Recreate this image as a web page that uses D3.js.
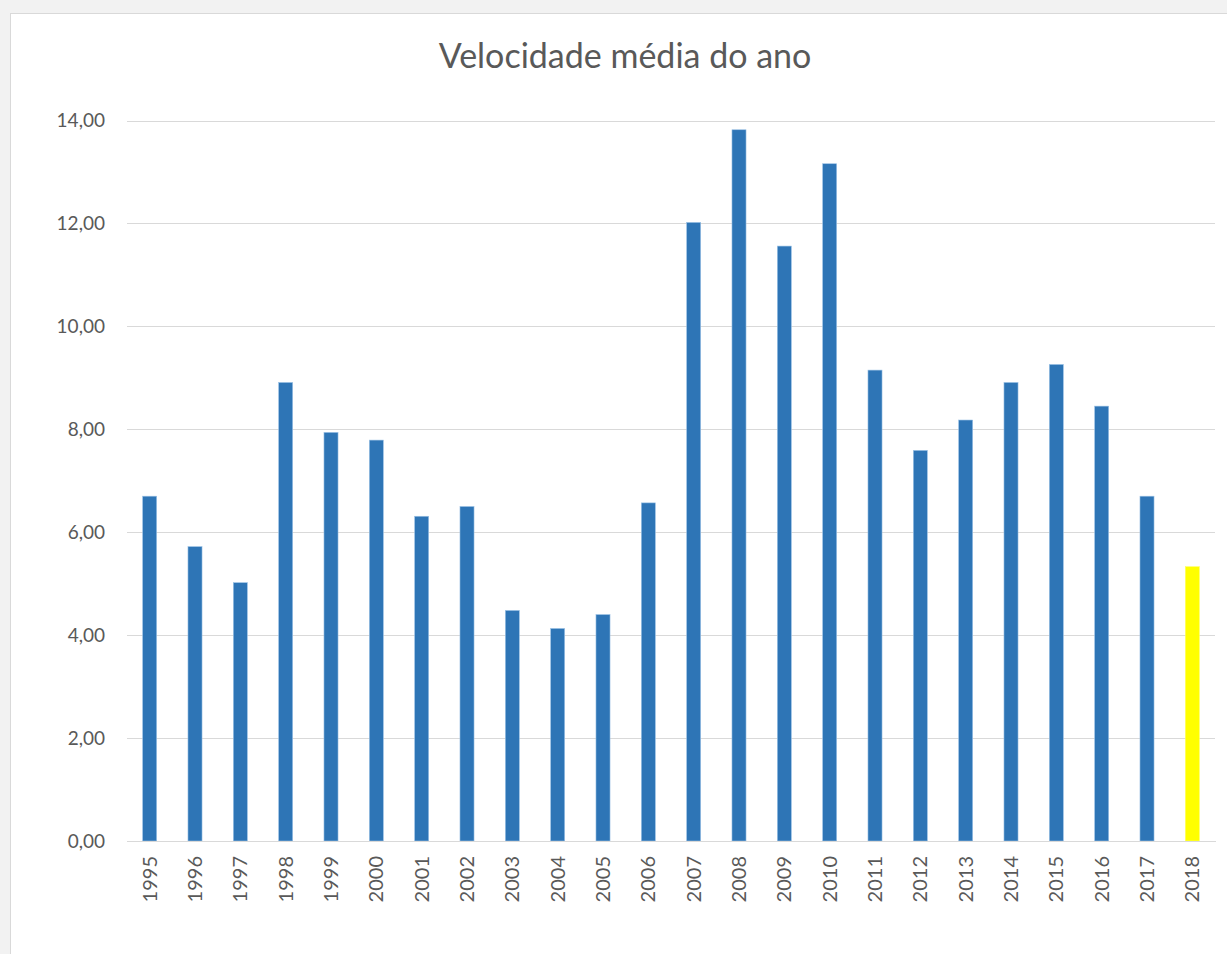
<!DOCTYPE html>
<html>
<head>
<meta charset="utf-8">
<script src="https://cdn.jsdelivr.net/npm/d3@7"></script>
<style>
  html, body { margin: 0; padding: 0; background: #f2f2f2; }
  svg { display: block; }
</style>
</head>
<body>
<svg id="chart" width="1227" height="954"></svg>
<script>
const title = "Velocidade média do ano";
const years = ["1995","1996","1997","1998","1999","2000","2001","2002","2003","2004","2005","2006","2007","2008","2009","2010","2011","2012","2013","2014","2015","2016","2017","2018"];
const speeds = [6.70, 5.72, 5.02, 8.91, 7.94, 7.79, 6.31, 6.50, 4.48, 4.13, 4.40, 6.57, 12.02, 13.82, 11.56, 13.16, 9.15, 7.59, 8.18, 8.91, 9.26, 8.45, 6.70, 5.33];
const highlightYears = ["2018"];
const yTicks = [0, 2, 4, 6, 8, 10, 12, 14];

const svg = d3.select("#chart");
const W = 1227, H = 954;
const plot = { left: 127, right: 1215, top: 120.5, bottom: 841 };

svg.append("rect")
  .attr("x", 10.5).attr("y", 13.5)
  .attr("width", W).attr("height", H)
  .attr("fill", "#ffffff").attr("stroke", "#d9d9d9");

const x = d3.scaleBand().domain(years).range([plot.left, plot.right]).paddingInner(0.69).paddingOuter(0.345);
const y = d3.scaleLinear().domain([0, 14]).range([plot.bottom, plot.top]);

const font = "Lato, 'Open Sans', sans-serif";

// gridlines
const yAxis = d3.axisLeft(y).tickValues(yTicks)
  .tickSize(-(plot.right - plot.left))
  .tickPadding(22)
  .tickFormat(d => d3.format(".2f")(d).replace(".", ","));
const gy = svg.append("g").attr("transform", `translate(${plot.left},0)`).call(yAxis);
gy.select(".domain").remove();
gy.selectAll(".tick line").attr("stroke", "#d9d9d9").attr("stroke-width", 1).attr("shape-rendering", "crispEdges");
gy.selectAll(".tick text").attr("fill", "#595959").style("font-family", font).style("font-size", "19px");

// bars
svg.append("g").selectAll("rect").data(years).join("rect")
  .attr("x", d => x(d))
  .attr("width", x.bandwidth())
  .attr("y", (d, i) => y(speeds[i]))
  .attr("height", (d, i) => y(0) - y(speeds[i]))
  .attr("fill", d => highlightYears.includes(d) ? "#ffff00" : "#2e75b6")
  .attr("stroke", d => highlightYears.includes(d) ? "#ffff66" : "#9dc3e6")
  .attr("stroke-width", 0.6);

// x axis
const xAxis = d3.axisBottom(x).tickSize(0).tickPadding(0);
const gx = svg.append("g").attr("transform", `translate(0,${plot.bottom})`).call(xAxis);
gx.select(".domain").attr("stroke", "#d9d9d9").attr("shape-rendering", "crispEdges");
gx.selectAll(".tick text")
  .attr("fill", "#595959")
  .style("font-family", font).style("font-size", "20px")
  .attr("transform", "rotate(-90)")
  .attr("text-anchor", "end")
  .attr("dy", "0.35em")
  .attr("x", -15)
  .attr("y", 0);

// title
svg.append("text")
  .attr("x", 625).attr("y", 68)
  .attr("text-anchor", "middle")
  .attr("fill", "#595959")
  .style("font-family", font).style("font-size", "34px")
  .text(title);
</script>
</body>
</html>
